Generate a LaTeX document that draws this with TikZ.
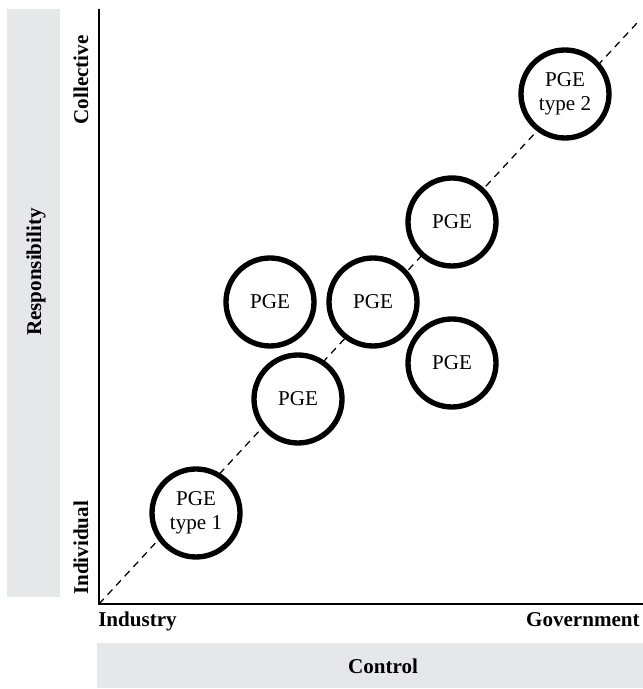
\documentclass[tikz,border=0pt]{standalone}
\usepackage{fontspec}
\setmainfont{Liberation Serif}
\usepackage{tikz}
\definecolor{bandgray}{HTML}{E6E7E8}

\begin{document}
\begin{tikzpicture}[
  pge/.style={
    circle,
    draw=black,
    line width=3.8pt,
    fill=white,
    minimum size=2.2cm,
    inner sep=0pt,
    align=center,
    font=\fontsize{15}{17}\selectfont},
  axis/.style={line width=1.2pt},
  diag/.style={dash pattern=on 5pt off 4pt, line width=0.9pt},
  lbl/.style={font=\fontsize{15}{18}\selectfont\bfseries, inner sep=0pt},
  band/.style={fill=bandgray, draw=none, inner sep=0pt},
]

  \useasboundingbox (0,0) rectangle (16.075,17.225);

  % grey label bands
  \node[band, anchor=south west, minimum width=1.325cm, minimum height=14.7cm] (respband) at (0.175,2.3) {};
  \node[lbl, rotate=90] (resp) at (0.9,10.425) {Responsibility};
  \node[band, anchor=south west, minimum width=13.65cm, minimum height=1.125cm] (ctrlband) at (2.425,0.025) {};
  \node[lbl] (ctrl) at (9.575,0.575) {Control};

  % axes
  \coordinate (origin) at (2.475,2.125);
  \coordinate (ytop) at (2.475,17.0);
  \coordinate (xend) at (16.075,2.125);
  \coordinate (diagend) at (15.925,16.65);
  \draw[axis] (ytop) -- (origin) -- (xend);
  \draw[diag] (origin) -- (diagend);

  % axis end labels
  \node[lbl, anchor=north west] (industry) at (2.45,1.925) {Industry};
  \node[lbl, anchor=north east] (government) at (16.0,1.925) {Government};
  \node[lbl, rotate=90, anchor=east] (collective) at (2.025,16.35) {Collective};
  \node[lbl, rotate=90, anchor=west] (individual) at (2.025,2.35) {Individual};

  % PGE circles
  \node[pge] (pgeA) at (4.9,4.4) {PGE\\type 1};
  \node[pge] (pgeB) at (7.45,7.25) {PGE};
  \node[pge] (pgeC) at (6.75,9.675) {PGE};
  \node[pge] (pgeD) at (9.325,9.675) {PGE};
  \node[pge] (pgeE) at (11.3,8.15) {PGE};
  \node[pge] (pgeF) at (11.3,11.675) {PGE};
  \node[pge] (pgeG) at (14.125,14.875) {PGE\\type 2};

\end{tikzpicture}
\end{document}
